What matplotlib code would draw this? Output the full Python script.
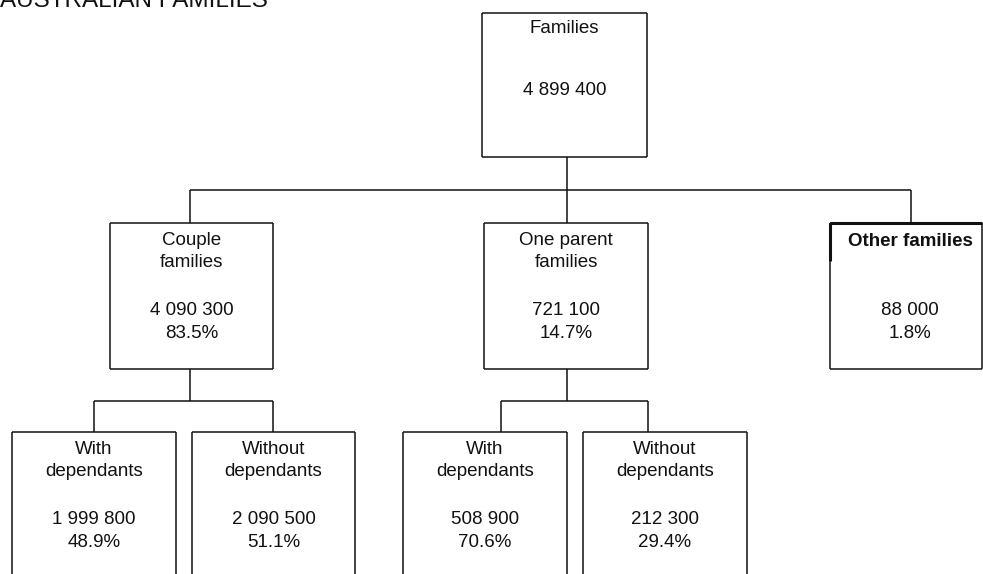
import matplotlib.pyplot as plt
from matplotlib.patches import Rectangle

# Tree of Australian families
title = "AUSTRALIAN FAMILIES"

top_label = "Families"
top_value = "4 899 400"

level1_labels = [["Couple", "families"], ["One parent", "families"], ["Other families"]]
level1_values = ["4 090 300", "721 100", "88 000"]
level1_pcts = ["83.5%", "14.7%", "1.8%"]

level2_labels = [["With", "dependants"], ["Without", "dependants"],
                 ["With", "dependants"], ["Without", "dependants"]]
level2_values = ["1 999 800", "2 090 500", "508 900", "212 300"]
level2_pcts = ["48.9%", "51.1%", "70.6%", "29.4%"]

W, H = 983, 574
plt.rcParams['font.family'] = ['Liberation Sans', 'DejaVu Sans']

fig = plt.figure(figsize=(W / 100, H / 100), dpi=100)
ax = fig.add_axes([0, 0, 1, 1])
ax.set_xlim(0, W)
ax.set_ylim(H, 0)
ax.axis('off')

LC = '#111111'
LW = 1.1
FS = 13.5


def line(xs, ys, lw=LW):
    ax.plot(xs, ys, color=LC, lw=lw, solid_capstyle='butt', clip_on=False)


def box(x0, x1, y0, y1, bottom=True):
    line([x0, x1], [y0, y0])
    line([x0, x0], [y0, y1])
    line([x1, x1], [y0, y1])
    if bottom:
        line([x0, x1], [y1, y1])


def txt(x, y, s, **kw):
    ax.text(x, y, s, ha='center', va='baseline', fontsize=FS, color='#111111', **kw)


# title, clipped at the top edge like the scan
ax.text(0, 7, title, ha='left', va='baseline', fontsize=17.5, color='#111111')

# top box
box(482, 647, 13, 157)
txt(564.5, 33, top_label)
txt(564.5, 95, top_value)

# connectors level 0 -> level 1
line([567, 567], [157, 190])
line([190, 911], [190, 190])
l1_boxes = [(110, 273), (484, 648), (830, 982)]
l1_conn = [190, 567, 911]
l1_top, l1_bot = 223, 369
for cx in l1_conn:
    line([cx, cx], [190, l1_top])

for i, (x0, x1) in enumerate(l1_boxes):
    box(x0, x1, l1_top, l1_bot)
    cx = (x0 + x1) / 2
    labels = level1_labels[i]
    if len(labels) == 2:
        txt(cx, l1_top + 22, labels[0])
        txt(cx, l1_top + 44, labels[1])
    else:
        cx = 910
        txt(cx, l1_top + 23, labels[0], fontweight='bold')
    txt(cx, l1_top + 92, level1_values[i])
    txt(cx, l1_top + 115, level1_pcts[i])

# thicker top edge on "Other families"
line([830, 982], [l1_top, l1_top], lw=2.2)
line([830, 830], [l1_top, l1_top + 38], lw=2.2)

# connectors level 1 -> level 2
l2_top = 432
line([190, 190], [l1_bot, 401])
line([94, 273], [401, 401])
line([567, 567], [l1_bot, 401])
line([501, 648], [401, 401])
l2_conn = [94, 273, 501, 648]
for cx in l2_conn:
    line([cx, cx], [401, l2_top])

l2_boxes = [(12, 176), (192, 355), (403, 567), (583, 747)]
for i, (x0, x1) in enumerate(l2_boxes):
    box(x0, x1, l2_top, H + 5, bottom=False)
    cx = (x0 + x1) / 2
    txt(cx, l2_top + 22, level2_labels[i][0])
    txt(cx, l2_top + 44, level2_labels[i][1])
    txt(cx, l2_top + 92, level2_values[i])
    txt(cx, l2_top + 115, level2_pcts[i])

fig.savefig('out.png', dpi=100, facecolor='white')
